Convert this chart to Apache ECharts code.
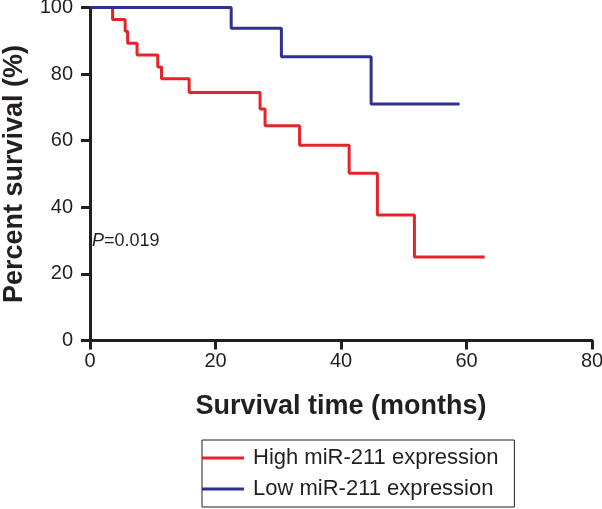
<!DOCTYPE html>
<html>
<head>
<meta charset="utf-8">
<script src="https://cdn.jsdelivr.net/npm/echarts@6/dist/echarts.min.js"></script>
<style>
	html,body{margin:0;padding:0;background:#fff;}
	#chart{width:602px;height:509px;}
</style>
</head>
<body>
<div id="chart"></div>
<script>
// 生存曲线数据 (months, percent)
var highName = 'High miR-211 expression';
var lowName = 'Low miR-211 expression';
var highTime = [0, 3.6, 5.6, 6.0, 7.5, 10.8, 11.4, 15.8, 27.1, 27.9, 33.4, 41.3, 45.8, 51.7, 62.9];
var highSurv = [100, 96.4, 92.9, 89.3, 85.7, 82.1, 78.6, 74.5, 69.5, 64.5, 58.6, 50.2, 37.7, 25.1, 25.1];
var lowTime = [0, 22.5, 30.5, 44.8, 58.9];
var lowSurv = [100, 93.8, 85.2, 71.0, 71.0];
var xTicks = [0, 20, 40, 60, 80];
var yTicks = [0, 20, 40, 60, 80, 100];

function pairs(t, s){
	var out = [];
	for(var i=0;i<t.length;i++){
		out.push([t[i], s[i]]);
	}
	return out;
}

var myChart = echarts.init(document.getElementById('chart'));
var axisColor = '#231f20';
var font = 'Liberation Sans, Arial, sans-serif';
var option = {
	animation: false,
	backgroundColor: '#fff',
	title: {
		text: '{i|P}=0.019',
		left: 92,
		top: 232,
		padding: 0,
		textStyle: {
			fontFamily: font,
			fontSize: 18,
			fontWeight: 'normal',
			color: axisColor,
			rich: {
				i: {fontStyle: 'italic', fontSize: 18, fontFamily: font, color: axisColor}
			}
		}
	},
	grid: {left: 90, right: 10, top: 7.5, bottom: 168.5, outerBoundsMode: 'none', containLabel: false},
	legend: {
		orient: 'vertical',
		left: 202,
		top: 440,
		padding: [7, 16, 7, 0],
		borderColor: axisColor,
		borderWidth: 1,
		itemWidth: 42,
		itemHeight: 3,
		itemGap: 9,
		icon: 'rect',
		textStyle: {fontFamily: font, fontSize: 22, color: axisColor, padding: [0, 0, 0, 4]},
		data: [highName, lowName]
	},
	xAxis: {
		type: 'value',
		min: xTicks[0],
		max: xTicks[xTicks.length-1],
		interval: 20,
		name: 'Survival time (months)',
		nameLocation: 'middle',
		nameGap: 53,
		nameMoveOverlap: false,
		nameTextStyle: {fontFamily: font, fontSize: 27, fontWeight: 'bold', color: axisColor},
		axisLine: {lineStyle: {color: axisColor, width: 3}},
		axisTick: {length: 9, lineStyle: {color: axisColor, width: 3}},
		axisLabel: {fontFamily: font, fontSize: 20, color: axisColor, margin: 11},
		splitLine: {show: false}
	},
	yAxis: {
		type: 'value',
		min: yTicks[0],
		max: yTicks[yTicks.length-1],
		interval: 20,
		name: 'Percent survival (%)',
		nameLocation: 'middle',
		nameGap: 62,
		nameMoveOverlap: false,
		nameTextStyle: {fontFamily: font, fontSize: 27, fontWeight: 'bold', color: axisColor},
		axisLine: {show: true, lineStyle: {color: axisColor, width: 3}},
		axisTick: {show: true, length: 9, lineStyle: {color: axisColor, width: 3}},
		axisLabel: {fontFamily: font, fontSize: 20, color: axisColor, margin: 17},
		splitLine: {show: false}
	},
	series: [
		{
			name: highName,
			type: 'line',
			step: 'end',
			showSymbol: false,
			symbol: 'none',
			color: '#e3242b',
			lineStyle: {width: 3, color: '#e3242b'},
			data: pairs(highTime, highSurv),
			z: 2
		},
		{
			name: lowName,
			type: 'line',
			step: 'end',
			showSymbol: false,
			symbol: 'none',
			color: '#2e3192',
			lineStyle: {width: 3, color: '#2e3192'},
			data: pairs(lowTime, lowSurv),
			z: 3
		}
	]
};
myChart.setOption(option);
</script>
</body>
</html>
